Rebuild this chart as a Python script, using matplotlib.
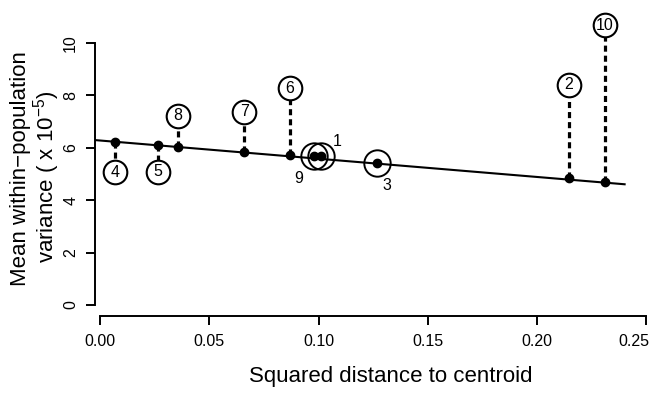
import matplotlib
matplotlib.use("Agg")
import matplotlib.pyplot as plt
import matplotlib.transforms as mtransforms

plt.rcParams['font.family'] = ['Liberation Sans', 'DejaVu Sans']
plt.rcParams['mathtext.fontset'] = 'custom'
plt.rcParams['mathtext.rm'] = 'Liberation Sans'
plt.rcParams['mathtext.it'] = 'Liberation Sans'

# population id -> squared distance to centroid, mean within-population variance (x 1e-5)
pop_id = [1, 2, 3, 4, 5, 6, 7, 8, 9, 10]
sq_dist = [0.1010, 0.2148, 0.1267, 0.0067, 0.0264, 0.0869, 0.0659, 0.0356, 0.0981, 0.2313]
mean_var = [5.67, 4.85, 5.43, 6.23, 6.10, 5.72, 5.85, 6.04, 5.67, 4.69]

# populations flagged with a tag on a dashed stalk (id, tag height)
tag_id = [2, 4, 5, 6, 7, 8, 10]
tag_y = [8.39, 5.06, 5.08, 8.26, 7.37, 7.21, 10.67]

# populations flagged with an open ring (id, label x, label y)
ring_id = [1, 9, 3]
ring_lab_x = [0.1085, 0.0911, 0.1315]
ring_lab_y = [6.23, 4.83, 4.57]

# fitted regression line
fit_intercept = 6.27
fit_slope = -6.94

x_ticks = [0, 0.05, 0.10, 0.15, 0.20, 0.25]
y_ticks = [0, 2, 4, 6, 8, 10]

fig = plt.figure(figsize=(6.52, 3.93), dpi=100)
ax = fig.add_axes([0.1462, 0.1972, 0.846, 0.7209])

rng = max(sq_dist) - min(sq_dist)
x_lo = min(sq_dist) - 0.04 * rng
x_hi = max(sq_dist) + 0.04 * rng

ax.plot([x_lo, x_hi], [fit_intercept + fit_slope * x_lo, fit_intercept + fit_slope * x_hi],
        color='black', lw=1.5, zorder=2)

for pid, ty in zip(tag_id, tag_y):
    i = pop_id.index(pid)
    ax.plot([sq_dist[i], sq_dist[i]], [mean_var[i], ty], color='black', lw=2.3,
            linestyle=(0, (1.9, 1.25)), zorder=1, clip_on=False)
    ax.plot(sq_dist[i], ty, 'o', ms=17, mfc='white', mec='black', mew=1.5,
            zorder=4, clip_on=False)
    ax.text(sq_dist[i], ty, str(pid), ha='center', va='center', fontsize=11.5,
            zorder=5, clip_on=False)

for pid, lx, ly in zip(ring_id, ring_lab_x, ring_lab_y):
    i = pop_id.index(pid)
    ax.plot(sq_dist[i], mean_var[i], 'o', ms=19, mfc='none', mec='black', mew=1.4, zorder=4)
    ax.text(lx, ly, str(pid), ha='center', va='center', fontsize=11.5)

ax.plot(sq_dist, mean_var, 'o', color='black', ms=6, zorder=3, linestyle='none')

ax.set_xlim(x_lo, 0.2505)
ax.set_ylim(-0.4, 10.4)
ax.set_xticks(x_ticks)
ax.set_xticklabels(['%.2f' % t for t in x_ticks])
ax.set_yticks(y_ticks)

for s in ['top', 'right']:
    ax.spines[s].set_visible(False)
ax.spines['left'].set_bounds(0, 10)
ax.spines['bottom'].set_bounds(0, 0.25)
for s in ['left', 'bottom']:
    ax.spines[s].set_linewidth(1.4)
ax.tick_params(direction='out', length=6.8, width=1.4, labelsize=11.5, pad=6.5)
ax.tick_params(axis='y', pad=5.5)
plt.setp(ax.get_yticklabels(), rotation=90, va='center')

# keep the last x label inside the figure
last = ax.get_xticklabels()[-1]
last.set_ha('right')
last.set_transform(last.get_transform() + mtransforms.ScaledTranslation(4 / 100, 0, fig.dpi_scale_trans))

fig.text(391 / 652, 1 - 381.7 / 393, 'Squared distance to centroid', fontsize=16,
         ha='center', va='baseline')
fig.text(26 / 652, 1 - 168.3 / 393, 'Mean within\u2212population', fontsize=16,
         rotation=90, rotation_mode='anchor', ha='center', va='baseline')
fig.text(53 / 652, 1 - 176.6 / 393, r'variance ( x 10$^{-5}$)', fontsize=16,
         rotation=90, rotation_mode='anchor', ha='center', va='baseline')

fig.savefig('out.png', dpi=100)
